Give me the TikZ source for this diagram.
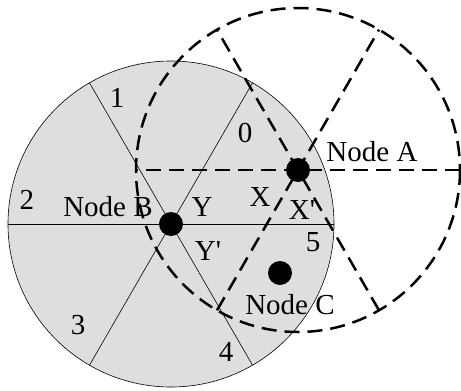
\documentclass[tikz,border=0pt]{standalone}
\usepackage{fontspec}
\setmainfont{Liberation Serif}
\definecolor{cellgrey}{RGB}{221,223,223}
\begin{document}
\begin{tikzpicture}[
  x=1pt, y=-1pt,
  font=\fontsize{29}{30}\selectfont,
  cell/.style={draw=black, line width=0.6pt, fill=cellgrey},
  spoke/.style={draw=black, line width=0.6pt},
  reach/.style={draw=black, line width=2.5pt, dash pattern=on 15pt off 8pt},
  dot/.style={circle, fill=black, minimum size=24pt, inner sep=0},
  lbl/.style={inner sep=0, anchor=center},
]
\useasboundingbox (0,0) rectangle (461,391);

\coordinate (cb) at (171,224);
\coordinate (ca) at (298,170);

% sectors around node B
\draw[cell] (cb) circle (163);
\foreach \a in {0,60,120}
  \draw[spoke] (cb) ++(\a:163) -- ++(\a+180:326);

% sectors around node A
\draw[reach] (ca) circle (162);
\foreach \a in {0,60,120}
  \draw[reach] (ca) ++(\a:162) -- ++(\a+180:324);

\node[dot] (nodeA) at (ca) {};
\node[dot] (nodeB) at (cb) {};
\node[dot] (nodeC) at (280,273) {};

\node[lbl] (labA) at (372,152) {Node A};
\node[lbl] (labB) at (108,207) {Node B};
\node[lbl] (labC) at (290,305) {Node C};
\node[lbl] (labX)  at (260,197) {X};
\node[lbl] (labXp) at (302,210) {X\textquotesingle};
\node[lbl] (labY)  at (202,207) {Y};
\node[lbl] (labYp) at (208,251) {Y\textquotesingle};

\node[lbl] (s0) at (245,133) {0};
\node[lbl] (s1) at (117,98)  {1};
\node[lbl] (s2) at (27,200)  {2};
\node[lbl] (s3) at (78,325)  {3};
\node[lbl] (s4) at (226,352) {4};
\node[lbl] (s5) at (313,242) {5};
\end{tikzpicture}
\end{document}
